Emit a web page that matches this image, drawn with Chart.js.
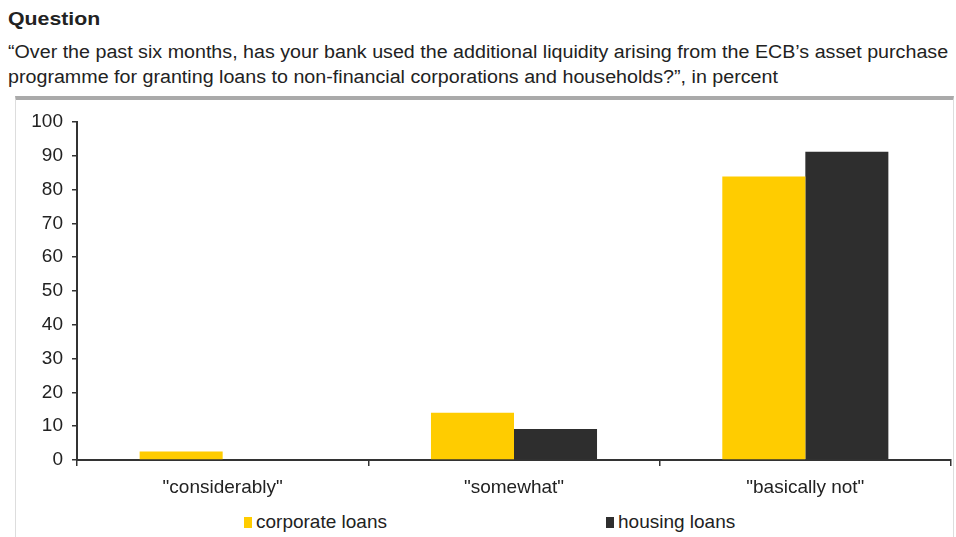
<!DOCTYPE html>
<html>
<head>
<meta charset="utf-8">
<script src="https://cdn.jsdelivr.net/npm/chart.js@4/dist/chart.umd.min.js"></script>
<style>
  html, body { margin: 0; padding: 0; background: #fff; }
  body { width: 956px; height: 537px; position: relative; overflow: hidden;
         font-family: "Liberation Sans", Arial, sans-serif; color: #222; }
  #title { position: absolute; left: 8px; top: 8px; font-size: 19px; font-weight: bold;
           transform: scaleX(1.12); transform-origin: left top; }
  #subtitle { position: absolute; left: 8px; top: 40px; font-size: 18px; line-height: 25px; white-space: nowrap;
              transform: scaleX(1.093); transform-origin: left top; }
  #frame { position: absolute; left: 15px; top: 96px; width: 937px; height: 450px;
           border: 1px solid #ddd; border-top: 4px solid #aaa; }
  #chart-wrap { position: absolute; left: 8px; top: 100px; width: 944px; height: 400px; }
  #legend { position: absolute; top: 511px; left: 0; width: 956px; font-size: 19px; }
  .item { position: absolute; white-space: nowrap; }
  .swatch { display: inline-block; width: 8px; height: 11px; margin-right: 4px; }
</style>
</head>
<body>
<div id="title">Question</div>
<div id="subtitle">“Over the past six months, has your bank used the additional liquidity arising from the ECB’s asset purchase<br>programme for granting loans to non-financial corporations and households?”, in percent</div>
<div id="frame"></div>
<div id="chart-wrap"><canvas id="chart"></canvas></div>
<div id="legend"></div>
<script>
const categories = ['"considerably"', '"somewhat"', '"basically not"'];
const corporateLoans = [2.5, 14.0, 83.9];
const housingLoans = [0, 9.2, 91.2];
const yTicks = [0, 10, 20, 30, 40, 50, 60, 70, 80, 90, 100];

const seriesNames = ['corporate loans', 'housing loans'];
const seriesColors = ['#ffcc00', '#2e2e2e'];

const ctx = document.getElementById('chart').getContext('2d');

new Chart(ctx, {
  type: 'bar',
  data: {
    labels: categories,
    datasets: [
      { label: seriesNames[0], data: corporateLoans, backgroundColor: seriesColors[0] },
      { label: seriesNames[1], data: housingLoans, backgroundColor: seriesColors[1] },
    ],
  },
  options: {
    responsive: true,
    maintainAspectRatio: false,
    animation: false,
    categoryPercentage: 0.57,
    barPercentage: 1.0,
    layout: { padding: { top: 22, right: 1, left: 0, bottom: 0 } },
    plugins: {
      legend: { display: false },
      tooltip: { enabled: false },
    },
    scales: {
      x: {
        grid: { display: true, drawOnChartArea: false, offset: true, color: '#333', tickLength: 6, lineWidth: 1.5 },
        border: { color: '#333', width: 2 },
        ticks: { color: '#222', font: { family: 'Liberation Sans', size: 19 }, padding: 10, maxRotation: 0 },
        afterFit: function(scale) { scale.height = 40; },
      },
      y: {
        min: 0,
        max: 100,
        afterBuildTicks: function(scale) { scale.ticks = yTicks.map(function(v) { return { value: v }; }); },
        grid: { display: true, drawOnChartArea: false, color: '#333', tickLength: 5, lineWidth: 1.5 },
        border: { color: '#333', width: 2 },
        ticks: { color: '#222', font: { family: 'Liberation Sans', size: 19 }, padding: 9 },
        afterFit: function(scale) { scale.width = 69; },
      },
    },
  },
});

// legend drawn below the plot
const legendPos = [244, 606];
const legend = document.getElementById('legend');
seriesNames.forEach(function(name, i) {
  const item = document.createElement('div');
  item.className = 'item';
  item.style.left = legendPos[i] + 'px';
  item.innerHTML = '<span class="swatch" style="background:' + seriesColors[i] + '"></span>' + name;
  legend.appendChild(item);
});
</script>
</body>
</html>
